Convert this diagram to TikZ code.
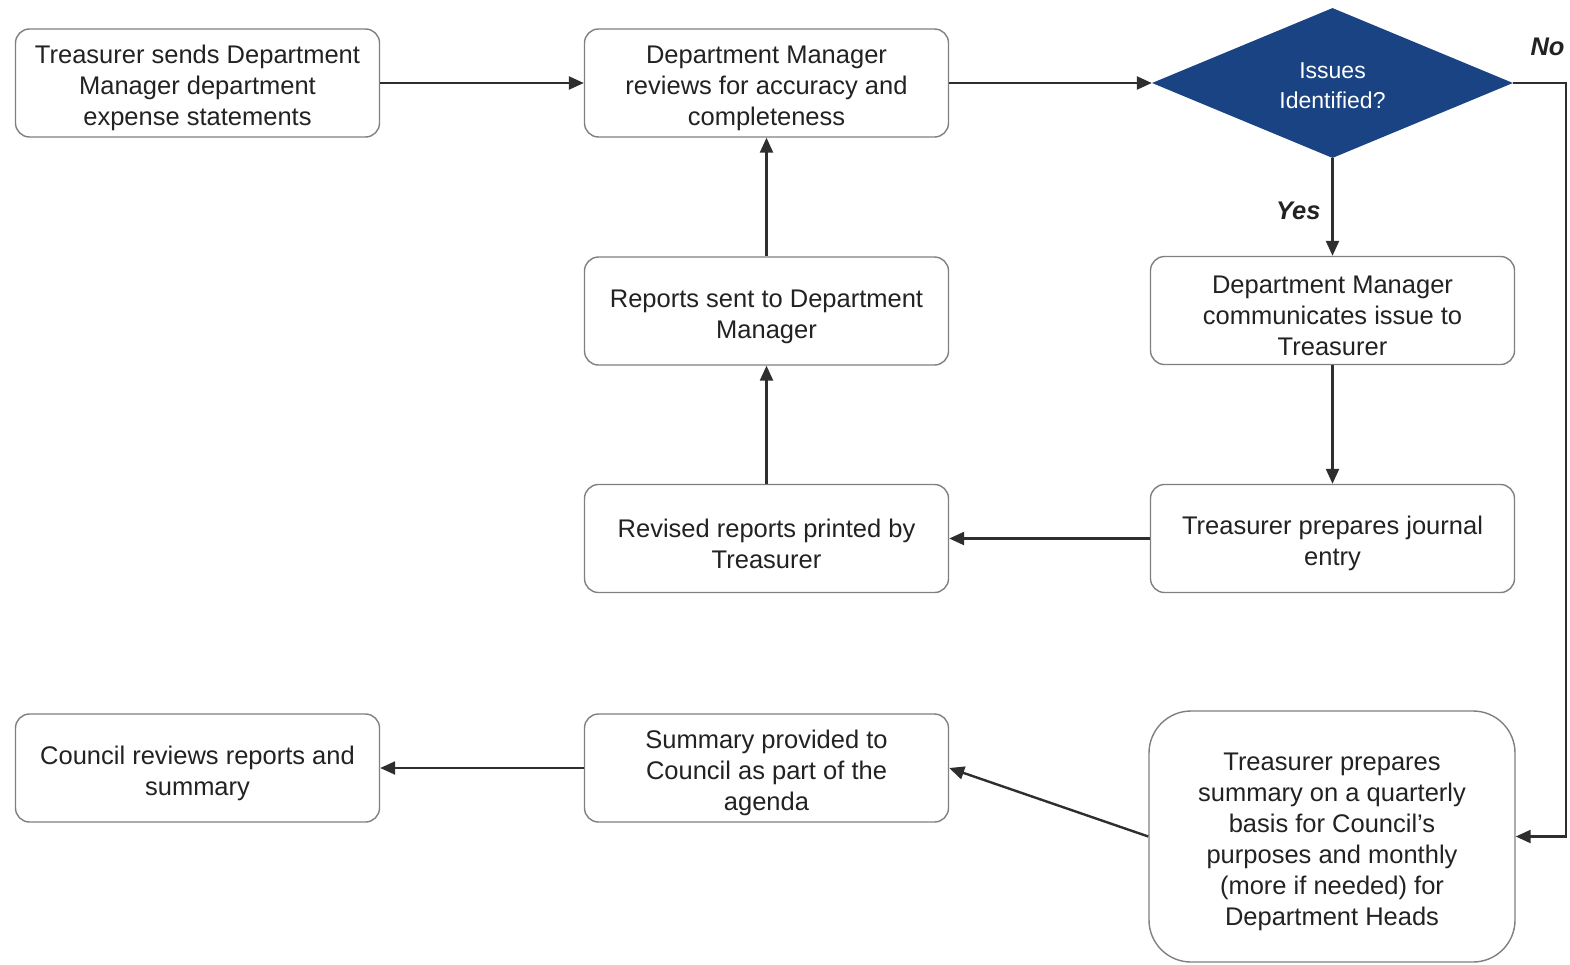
\documentclass[tikz,border=0pt]{standalone}
\usepackage{fontspec}
\setmainfont{Liberation Sans}
\usetikzlibrary{arrows.meta,shapes.geometric}
\definecolor{txt}{HTML}{222222}
\definecolor{edge}{HTML}{808080}
\definecolor{wire}{HTML}{2E2E2E}
\definecolor{navy}{HTML}{1A4383}
% tall strut on the first line lowers the text block a little
\newcommand{\firststrut}{\rule{0pt}{29pt}}
\newcommand{\qstrut}{\rule{0pt}{22pt}}
\begin{document}
\begin{tikzpicture}[x=1pt,y=-1pt,
  procbox/.style={draw=edge,line width=1.4pt,rounded corners=14pt,fill=white,
    minimum width=364pt,minimum height=108pt,align=center,text=txt,
    font=\fontsize{25.5}{31}\selectfont,inner sep=0pt},
  decision/.style={diamond,draw=none,fill=navy,minimum width=361pt,minimum height=150pt,
    aspect=2.4,inner sep=0pt,align=center,text=white,font=\fontsize{23}{30}\selectfont},
  flow/.style={draw=wire,line width=2.4pt,-{Triangle[length=15pt,width=13pt]}},
  tag/.style={text=txt,font=\fontsize{25.5}{30}\selectfont\bfseries\itshape}]
\useasboundingbox (0,0) rectangle (1570,964);

% top row
\node[procbox] (send) at (197.5,83) {\firststrut Treasurer sends Department\\Manager department\\expense statements};
\node[procbox] (review) at (766.5,83) {\firststrut Department Manager\\reviews for accuracy and\\completeness};
\node[decision] (issues) at (1332.5,83) {\qstrut Issues\\Identified?};

% middle rows
\node[procbox] (sent) at (766.5,311) {\firststrut Reports sent to Department\\Manager};
\node[procbox] (comm) at (1332.5,310.5) {\firststrut Department Manager\\communicates issue to\\Treasurer};
\node[procbox] (revised) at (766.5,538.5) {\firststrut Revised reports printed by\\Treasurer};
\node[procbox] (journal) at (1332.5,538.5) {\firststrut Treasurer prepares journal\\entry};

% bottom row
\node[procbox] (council) at (197.5,768) {\firststrut Council reviews reports and\\summary};
\node[procbox] (agenda) at (766.5,768) {\firststrut Summary provided to\\Council as part of the\\agenda};
\node[procbox,rounded corners=42pt,minimum width=366pt,minimum height=251pt] (summ) at (1332,836.5)
  {\firststrut Treasurer prepares\\summary on a quarterly\\basis for Council’s\\purposes and monthly\\(more if needed) for\\Department Heads};

% connectors
\draw[flow] (send.east) -- (review.west);
\draw[flow] (review.east) -- (issues.west);
\draw[flow] (issues.south) -- (comm.north);
\draw[flow] (comm.south) -- (journal.north);
\draw[flow] (journal.west) -- (revised.east);
\draw[flow] (revised.north) -- (sent.south);
\draw[flow] (sent.north) -- (review.south);
\coordinate (nocorner) at (1566,83);
\draw[flow] (issues.east) -- (nocorner) |- (summ.east);
\draw[flow] (summ.west) -- (agenda.east);
\draw[flow] (agenda.west) -- (council.east);

% branch labels
\node[tag,anchor=east] (yes) at (1324,211) {Yes};
\node[tag,anchor=west] (no) at (1527,47) {No};
\end{tikzpicture}
\end{document}
